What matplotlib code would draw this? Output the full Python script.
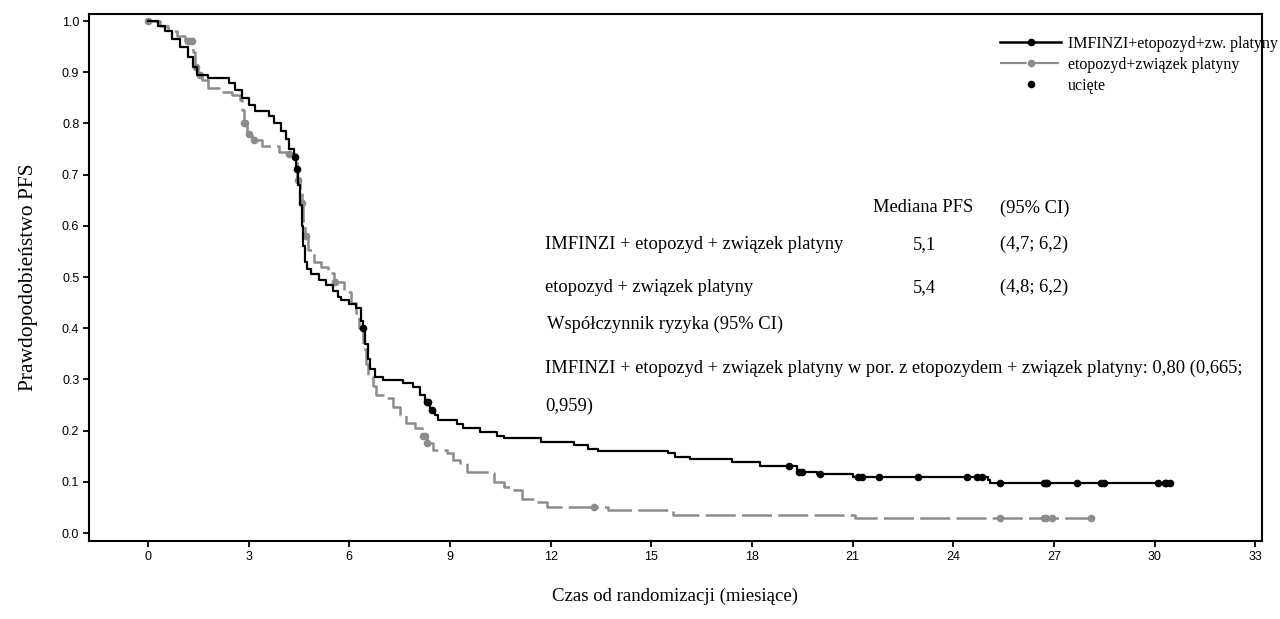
import matplotlib
matplotlib.use("Agg")
import matplotlib.pyplot as plt
import numpy as np
from matplotlib.lines import Line2D

# ---- Kaplan-Meier step data (time in months, survival after the step) ----
imf_t = [0.0, 0.3, 0.5, 0.7, 0.95, 1.2, 1.35, 1.45, 1.8, 2.4, 2.6, 2.8, 3.0, 3.2,
         3.6, 3.75, 3.95, 4.1, 4.2, 4.35, 4.42, 4.48, 4.52, 4.58, 4.63, 4.68, 4.75,
         4.85, 5.1, 5.3, 5.5, 5.65, 5.75, 6.0, 6.2, 6.35, 6.42, 6.48, 6.55, 6.62,
         6.75, 7.0, 7.6, 7.9, 8.1, 8.25, 8.4, 8.55, 8.65, 9.2, 9.4, 9.9, 10.4, 10.6,
         11.7, 12.7, 13.1, 13.4, 15.5, 15.7, 16.15, 17.4, 18.25, 19.35, 19.95, 21.0,
         25.04, 25.1]
imf_s = [1.0, 0.99, 0.98, 0.965, 0.95, 0.93, 0.91, 0.895, 0.888, 0.878, 0.865, 0.85,
         0.835, 0.825, 0.815, 0.80, 0.785, 0.77, 0.75, 0.735, 0.71, 0.68, 0.64, 0.60,
         0.56, 0.53, 0.515, 0.505, 0.495, 0.485, 0.472, 0.46, 0.455, 0.448, 0.44,
         0.415, 0.40, 0.37, 0.34, 0.32, 0.305, 0.298, 0.293, 0.285, 0.27, 0.255, 0.24,
         0.23, 0.22, 0.213, 0.205, 0.197, 0.19, 0.185, 0.178, 0.172, 0.165, 0.160,
         0.156, 0.149, 0.144, 0.139, 0.131, 0.120, 0.115, 0.110, 0.103, 0.097]
imf_end = 30.45
imf_cens = [4.38, 4.45, 6.42, 8.3, 8.35, 8.45, 19.1, 19.4, 19.5, 20.03, 21.16, 21.28,
            21.8, 22.95, 24.4, 24.7, 24.85, 25.4, 26.7, 26.75, 26.8, 27.7, 28.4, 28.5,
            30.1, 30.3, 30.35, 30.45]

eto_t = [0.0, 0.35, 0.6, 0.85, 1.1, 1.35, 1.4, 1.5, 1.6, 1.8, 2.1, 2.5, 2.75, 2.8,
         2.85, 2.95, 3.1, 3.4, 3.9, 4.2, 4.4, 4.43, 4.52, 4.58, 4.63, 4.68, 4.78, 4.95,
         5.15, 5.35, 5.55, 5.85, 6.05, 6.2, 6.3, 6.4, 6.5, 6.55, 6.7, 6.8, 7.1, 7.3,
         7.5, 7.7, 7.95, 8.15, 8.3, 8.5, 8.9, 9.1, 9.3, 9.5, 10.2, 10.3, 10.6, 10.9,
         11.15, 11.5, 11.9, 13.7, 15.65, 21.07]
eto_s = [1.0, 0.99, 0.98, 0.97, 0.96, 0.94, 0.91, 0.895, 0.885, 0.87, 0.862, 0.855,
         0.845, 0.826, 0.80, 0.78, 0.768, 0.755, 0.745, 0.74, 0.725, 0.69, 0.665,
         0.645, 0.61, 0.58, 0.553, 0.53, 0.52, 0.508, 0.49, 0.47, 0.45, 0.43, 0.40,
         0.36, 0.33, 0.305, 0.288, 0.27, 0.264, 0.246, 0.23, 0.215, 0.205, 0.19,
         0.176, 0.162, 0.156, 0.143, 0.137, 0.119, 0.117, 0.10, 0.09, 0.084, 0.066,
         0.06, 0.051, 0.045, 0.035, 0.029]
eto_end = 28.1
eto_cens = [0.0, 1.2, 1.25, 1.3, 1.43, 1.55, 2.87, 2.9, 3.0, 3.15, 4.2, 4.46, 4.6,
            4.7, 5.57, 8.2, 8.25, 8.32, 13.3, 25.4, 26.7, 26.75, 26.95, 28.1]

x_ticks = list(range(0, 34, 3))
y_ticks = [0.0, 0.1, 0.2, 0.3, 0.4, 0.5, 0.6, 0.7, 0.8, 0.9, 1.0]

legend_labels = ["IMFINZI+etopozyd+zw. platyny", "etopozyd+związek platyny", "ucięte"]

SERIF = "Liberation Serif"
SANS = "Liberation Sans"
GRAY = "#8c8c8c"


def surv_at(times, surv, t):
    idx = np.searchsorted(times, t, side="right") - 1
    return np.asarray(surv)[idx]


fig = plt.figure(figsize=(12.8, 6.19), dpi=100)
ax = fig.add_axes([89 / 1280, 78 / 619, (1262 - 89) / 1280, (541 - 14) / 619])

# gray arm first, black on top
ax.step(eto_t + [eto_end], eto_s + [eto_s[-1]], where="post", color=GRAY,
        lw=1.8, dashes=(12, 2.5))
ax.plot(eto_cens, surv_at(eto_t, eto_s, eto_cens), "o", color=GRAY, ms=5.5, mew=0)
ax.step(imf_t + [imf_end], imf_s + [imf_s[-1]], where="post", color="black", lw=1.6)
ax.plot(imf_cens, surv_at(imf_t, imf_s, imf_cens), "o", color="black", ms=5.5, mew=0)

ax.set_xlim(-1.76, 33.2)
ax.set_ylim(-0.0156, 1.0137)
ax.set_xticks(x_ticks)
ax.set_yticks(y_ticks)
ax.set_xticklabels([str(v) for v in x_ticks], fontfamily=SANS, fontsize=9)
ax.set_yticklabels([f"{v:.1f}" for v in y_ticks], fontfamily=SANS, fontsize=9)
ax.tick_params(direction="out", length=4, width=1.3, pad=3)
for sp in ax.spines.values():
    sp.set_linewidth(1.5)

ax.set_xlabel("Czas od randomizacji (miesiące)", fontfamily=SERIF, fontsize=13.5,
              labelpad=18)
ax.set_ylabel("Prawdopodobieństwo PFS", fontfamily=SERIF, fontsize=15.5, labelpad=17)

# ---- median / hazard ratio table ----
tk = dict(fontfamily=SERIF, fontsize=13.3, va="center")
ax.text(21.6, 0.635, "Mediana PFS", **tk)
ax.text(25.4, 0.635, "(95% CI)", **tk)
ax.text(11.83, 0.564, "IMFINZI + etopozyd + związek platyny", **tk)
ax.text(22.8, 0.564, "5,1", **tk)
ax.text(25.4, 0.564, "(4,7; 6,2)", **tk)
ax.text(11.83, 0.480, "etopozyd + związek platyny", **tk)
ax.text(22.8, 0.480, "5,4", **tk)
ax.text(25.4, 0.480, "(4,8; 6,2)", **tk)
ax.text(11.9, 0.408, "Współczynnik ryzyka (95% CI)", **tk)
ax.text(11.83, 0.322, "IMFINZI + etopozyd + związek platyny w por. z etopozydem + "
        "związek platyny: 0,80 (0,665;", **tk)
ax.text(11.83, 0.248, "0,959)", **tk)

handles = [
    Line2D([], [], color="black", lw=1.8, marker="o", ms=5.5, mew=0),
    Line2D([], [], color=GRAY, lw=1.6, dashes=(12, 2.5), marker="o", ms=5.5, mew=0),
    Line2D([], [], color="black", lw=0, marker="o", ms=5.5, mew=0),
]
fig.legend(handles, legend_labels, loc="upper left",
           bbox_to_anchor=(1000 / 1280, 1 - 36 / 619), frameon=False,
           prop={"family": SERIF, "size": 11.5}, handlelength=3.85,
           handletextpad=0.4, labelspacing=0.3, numpoints=1, borderpad=0,
           borderaxespad=0)

fig.savefig("out.png", dpi=100)
